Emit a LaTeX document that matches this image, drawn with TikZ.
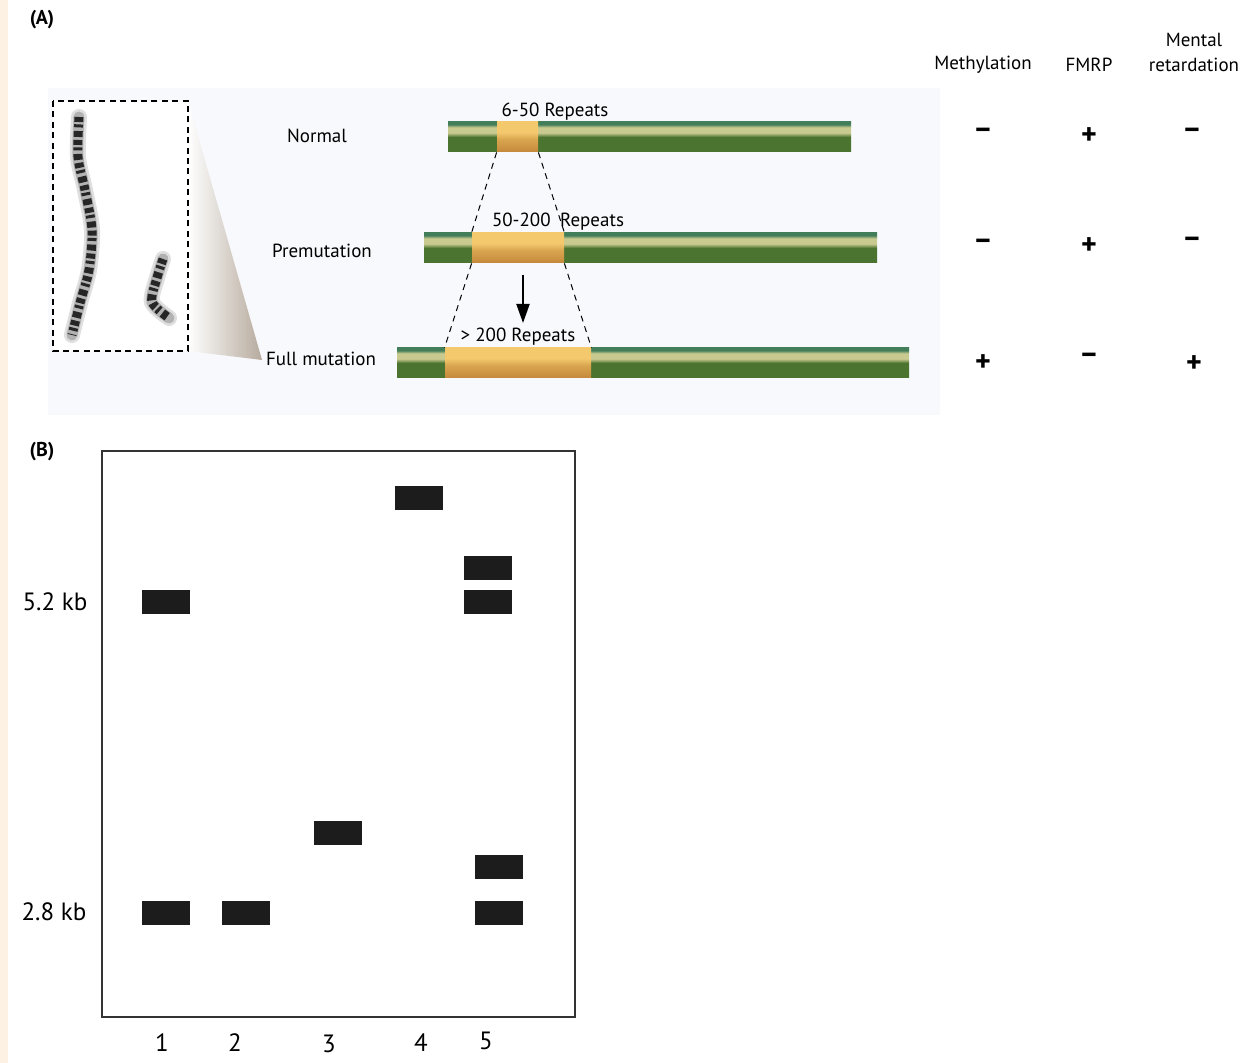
\documentclass[tikz,border=0pt]{standalone}
\usepackage{fontspec}
\setmainfont{PT Sans}
\usetikzlibrary{arrows.meta, positioning, shadings}
\definecolor{margin}{HTML}{FDF1E3}
\definecolor{panelbg}{HTML}{F7F9FC}
\definecolor{barDark}{HTML}{4B7431}
\definecolor{barLight}{HTML}{C9CA8F}
\definecolor{barTeal}{HTML}{437E5A}
\definecolor{repDark}{HTML}{C4893B}
\definecolor{repMid}{HTML}{D9A54F}
\definecolor{repLight}{HTML}{F4C96E}
\definecolor{wedge}{HTML}{B6AA9D}
\definecolor{bandblack}{HTML}{1C1C1C}
\definecolor{framegray}{HTML}{333333}
% stripe profiles of the gene bars (bottom to top)
\pgfdeclareverticalshading{genegreen}{100bp}{color(0bp)=(barDark); color(25bp)=(barDark);
  color(50bp)=(barDark); color(57bp)=(barLight); color(66bp)=(barLight);
  color(71bp)=(barTeal); color(75bp)=(barTeal); color(100bp)=(barTeal)}
\pgfdeclareverticalshading{generepeat}{100bp}{color(0bp)=(repDark); color(25bp)=(repDark);
  color(46bp)=(repMid); color(58bp)=(repLight); color(75bp)=(repLight); color(100bp)=(repLight)}

\begin{document}
\begin{tikzpicture}[
  x=0.5pt, y=-0.5pt,
  rowtext/.style={font=\fontsize{9.5}{12}\selectfont, inner sep=1pt, align=center},
  panel/.style={font=\fontsize{10}{12}\selectfont\bfseries, inner sep=0pt},
  genebar/.style={rectangle, inner sep=0pt, minimum height=15pt, shading=genegreen},
  repeatseg/.style={rectangle, inner sep=0pt, minimum height=15pt, shading=generepeat},
  zoomline/.style={black, line width=0.5pt, dash pattern=on 3pt off 2.5pt},
  sign/.style={font=\fontsize{15}{17}\selectfont\bfseries, inner sep=0pt},
  band/.style={fill=bandblack, minimum width=24pt, minimum height=12pt, inner sep=0pt},
  kbtext/.style={font=\fontsize{12.5}{15}\selectfont, inner sep=0pt},
  chromohalo/.style={gray!25, line width=8pt, line cap=round},
  chromobody/.style={gray!60, line width=5.5pt, line cap=round},
  chromoband/.style={black!85, line width=4.5pt,
                     dash pattern=on 2.5pt off 1.2pt on 1.5pt off 1.8pt on 3pt off 1.5pt},
]
  \useasboundingbox (0,0) rectangle (1243,1063);
  \fill[white] (0,0) rectangle (1243,1063);
  \fill[margin] (0,0) rectangle (8,1063);

  % (A) --- repeat expansion
  \node[panel] (pa) at (42,20) {(A)};
  \fill[panelbg] (48,88) rectangle (940,415);

  % chromosome spread and zoom wedge
  \shade[left color=white, right color=wedge] (188,101) -- (262,360) -- (188,351) -- cycle;
  \draw[fill=white, line width=0.6pt, dash pattern=on 3pt off 2.2pt] (53,101) rectangle (188,351);
  \foreach \s in {chromohalo, chromobody, chromoband}
    \draw[\s] plot[smooth] coordinates {(79,117) (78,157) (85,190) (92,230) (89,270) (80,303) (72,335)};
  \foreach \s in {chromohalo, chromobody, chromoband}
    \draw[\s] plot[smooth] coordinates {(163,259) (157,278) (152,302) (169,318)};

  % row names
  \node[rowtext] (normal) at (317,136) {Normal};
  \node[rowtext] (premut) at (322,251) {Premutation};
  \node[rowtext] (fullmut) at (321,359) {Full mutation};

  % gene bars with the CGG stretch
  \node[genebar, minimum width=201.5pt] (bar1) at (649.5,137) {};
  \node[repeatseg, minimum width=20.5pt] (rep1) at (517.5,137) {};
  \node[genebar, minimum width=226.5pt] (bar2) at (650.5,248) {};
  \node[repeatseg, minimum width=46pt] (rep2) at (518,248) {};
  \node[genebar, minimum width=256pt] (bar3) at (653,363) {};
  \node[repeatseg, minimum width=73pt] (rep3) at (518,363) {};

  \node[rowtext] (lab1) at (555,112) {6-50 Repeats};
  \node[rowtext] (lab2) at (558,222) {50-200\enspace Repeats};
  \node[rowtext] (lab3) at (518,337) {> 200 Repeats};

  % zoom lines between the repeat stretches
  \draw[zoomline] (rep1.south west) -- (rep2.north west);
  \draw[zoomline] (rep1.south east) -- (rep2.north east);
  \draw[zoomline] (rep2.south west) -- (rep3.north west);
  \draw[zoomline] (rep2.south east) -- (rep3.north east);

  \coordinate (arrtop) at (523,275);
  \coordinate (arrtip) at (523,323);
  \draw[line width=1pt, -{Triangle[length=9.5pt, width=6.5pt]}] (arrtop) -- (arrtip);

  % phenotype table
  \node[rowtext] (methyl) at (983,65) {Methylation};
  \node[rowtext] (fmrp) at (1089,65) {FMRP};
  \node[rowtext, font=\fontsize{9.5}{12.5}\selectfont] (mr) at (1194,52) {Mental\\retardation};

  \node[sign] (m1) at (983,133) {–};
  \node[sign] (f1) at (1089,136) {+};
  \node[sign] (r1) at (1192,133) {–};
  \node[sign] (m2) at (983,244) {–};
  \node[sign] (f2) at (1089,246) {+};
  \node[sign] (r2) at (1192,242) {–};
  \node[sign] (m3) at (983,363) {+};
  \node[sign] (f3) at (1089,358) {–};
  \node[sign] (r3) at (1194,364) {+};

  % (B) --- Southern blot
  \node[panel] (pb) at (42,452) {(B)};
  \node[draw=framegray, line width=0.9pt, minimum width=236.5pt, minimum height=283pt,
        inner sep=0pt] (blot) at (338.5,734) {};

  \node[kbtext] (kb52) at (55,602) {5.2 kb};
  \node[kbtext] (kb28) at (54,912) {2.8 kb};

  \node[band] (b1a) at (166,602) {};
  \node[band] (b1b) at (166,913) {};
  \node[band] (b2a) at (246,913) {};
  \node[band] (b3a) at (338,832.5) {};
  \node[band] (b4a) at (419,498.5) {};
  \node[band] (b5a) at (488,568) {};
  \node[band] (b5b) at (488,602) {};
  \node[band] (b5c) at (499,867) {};
  \node[band] (b5d) at (499,913) {};

  \node[kbtext] (l1) at (162,1043) {1};
  \node[kbtext] (l2) at (235,1043) {2};
  \node[kbtext] (l3) at (329,1044) {3};
  \node[kbtext] (l4) at (421,1043) {4};
  \node[kbtext] (l5) at (486,1041) {5};
\end{tikzpicture}
\end{document}
